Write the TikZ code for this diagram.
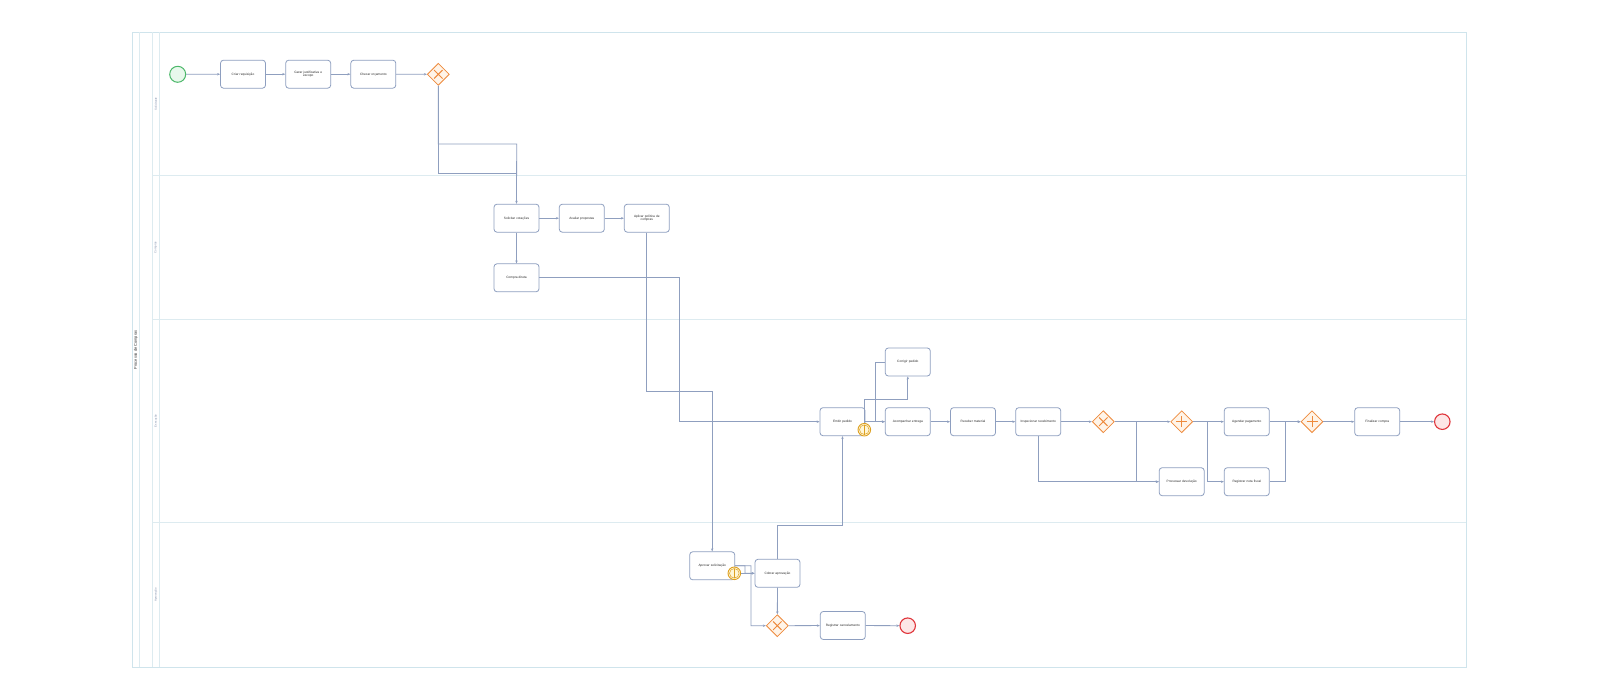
\documentclass[tikz,border=0pt]{standalone}
\usepackage{fontspec}
\setmainfont{Liberation Sans}
\usetikzlibrary{arrows.meta,shapes.geometric}
\definecolor{lanec}{HTML}{DDEBF0}
\definecolor{poolc}{HTML}{CFE4EC}
\definecolor{flowc}{HTML}{8F9FBF}
\definecolor{taskc}{HTML}{8E9FC0}
\definecolor{startc}{HTML}{4CB86A}
\definecolor{startf}{HTML}{E8F8EC}
\definecolor{endc}{HTML}{E0353B}
\definecolor{endf}{HTML}{FDE6E6}
\definecolor{gwc}{HTML}{EE8A3C}
\definecolor{gwf}{HTML}{FFF4E8}
\definecolor{bndc}{HTML}{DDA020}
\definecolor{bndf}{HTML}{FFF6D6}
\definecolor{txtc}{HTML}{2A2A2A}
\definecolor{lblc}{HTML}{7A8AA8}
\tikzset{
  task/.style={draw=taskc, line width=0.8pt, rounded corners=3pt, fill=white,
    minimum width=44.5pt, minimum height=28pt, inner sep=1pt, align=center,
    text width=43pt, font=\fontsize{3.2}{3.9}\selectfont, text=txtc},
  startev/.style={circle, draw=startc, fill=startf, line width=1pt, minimum size=16pt, inner sep=0pt},
  endev/.style={circle, draw=endc, fill=endf, line width=1.1pt, minimum size=15.5pt, inner sep=0pt},
  gw/.style={diamond, aspect=1, draw=gwc, fill=gwf, line width=0.8pt, minimum width=22pt, minimum height=22pt, inner sep=0pt},
  bnd/.style={circle, draw=bndc, fill=bndf, line width=0.9pt, minimum size=12.6pt, inner sep=0pt},
  flow/.style={draw=flowc, line width=0.8pt},
  arr/.style={flow, -{Stealth[length=3pt,width=2.4pt]}},
  lane/.style={draw=lanec, line width=0.6pt},
  lanelbl/.style={rotate=90, font=\fontsize{2.8}{3}\selectfont, text=lblc},
}
\newcommand{\gwx}[1]{\draw[gwc, line width=1pt] ([shift={(-4.2pt,-4.2pt)}]#1.center) -- ([shift={(4.2pt,4.2pt)}]#1.center) ([shift={(-4.2pt,4.2pt)}]#1.center) -- ([shift={(4.2pt,-4.2pt)}]#1.center);}
\newcommand{\gwplus}[1]{\draw[gwc, line width=1pt] ([shift={(-5.5pt,0pt)}]#1.center) -- ([shift={(5.5pt,0pt)}]#1.center) ([shift={(0pt,-5.5pt)}]#1.center) -- ([shift={(0pt,5.5pt)}]#1.center);}
\newcommand{\bndmark}[1]{\draw[bndc, line width=0.5pt] (#1.center) circle (4.8pt); \draw[bndc, line width=0.5pt] ([yshift=-4.8pt]#1.center) -- ([yshift=4.8pt]#1.center);}
\begin{document}
\begin{tikzpicture}[x=1pt, y=-1pt]
\useasboundingbox (0,0) rectangle (1600,700);
\fill[white] (0,0) rectangle (1600,700);
% pool and lanes
\draw[lane, draw=poolc] (132.3,32.3) rectangle (1466.3,667.3);
\draw[lane] (139.3,32.3) -- (139.3,667.3);
\draw[lane] (152.3,32.3) -- (152.3,667.3);
\draw[lane] (159.3,32.3) -- (159.3,667.3);
\draw[lane] (152.3,175.7) -- (1466.3,175.7);
\draw[lane] (152.3,319.3) -- (1466.3,319.3);
\draw[lane] (152.3,522.3) -- (1466.3,522.3);
\node[rotate=90, font=\fontsize{3.9}{4}\selectfont, text=txtc] (pooltitle) at (135.8,349.8) {Processo de Compras};
\node[lanelbl] (l1) at (155.8,104) {Solicitante};
\node[lanelbl] (l2) at (155.8,247.5) {Compras};
\node[lanelbl] (l3) at (155.8,421) {Execução};
\node[lanelbl] (l4) at (155.8,594.8) {Aprovação};
% lane 1
\node[startev] (start) at (177.7,74.3) {};
\node[task] (criar) at (243,74.2) {Criar requisição};
\node[task] (gerar) at (308.2,74.2) {Gerar justificativa e\\escopo};
\node[task] (checar) at (373.3,74.2) {Checar orçamento};
\node[gw] (gw1) at (438.3,74.3) {};
% lane 2
\node[task] (sol) at (516.5,218.2) {Solicitar cotações};
\node[task] (aval) at (581.8,218.2) {Avaliar propostas};
\node[task] (apl) at (646.8,218.2) {Aplicar política de\\compras};
\node[task] (cd) at (516.5,277.8) {Compra direta};
% lane 3
\node[task] (emit) at (842.5,421.7) {Emitir pedido};
\node[task] (corr) at (907.8,362) {Corrigir pedido};
\node[task] (acomp) at (907.8,421.7) {Acompanhar entrega};
\node[task] (receb) at (973,421.7) {Receber material};
\node[task] (insp) at (1038.2,421.7) {Inspecionar recebimento};
\node[gw] (gwx) at (1103.3,421.7) {};
\node[gw] (gwp) at (1181.7,421.7) {};
\node[task] (agend) at (1246.8,421.7) {Agendar pagamento};
\node[gw] (gwp2) at (1312,421.7) {};
\node[task] (fin) at (1377.2,421.7) {Finalizar compra};
\node[endev] (end2) at (1442.3,421.7) {};
\node[task] (proc) at (1181.7,481.7) {Processar devolução};
\node[task] (reg) at (1246.8,481.7) {Registrar nota fiscal};
% lane 4
\node[task] (apr) at (712.2,565.8) {Aprovar solicitação};
\node[task] (cob) at (777.5,573.3) {Cobrar aprovação};
\node[gw] (gw3) at (777.3,625.7) {};
\node[task] (regc) at (842.8,625.5) {Registrar cancelamento};
\node[endev] (end3) at (907.7,625.7) {};
% coordinates
\coordinate (j1) at (516.7,144);
\coordinate (j2) at (438.3,173.3);
\coordinate (j3) at (516.7,173.3);
\coordinate (k1) at (679.3,277.8);
\coordinate (k2) at (679.3,421.7);
\coordinate (m1) at (646.8,391.7);
\coordinate (m2) at (712.2,391.7);
\coordinate (b1) at (864.3,399.3);
\coordinate (b2) at (907.8,399.3);
\coordinate (c1) at (875,362);
\coordinate (c2) at (875,421.7);
\coordinate (x1) at (1136.7,421.7);
\coordinate (p1) at (1207.7,421.7);
\coordinate (r1) at (1285.7,481.7);
\coordinate (r2) at (1285.7,421.7);
\coordinate (q1) at (777.5,525.7);
\coordinate (q2) at (842.5,525.7);
\coordinate (a1) at (751,565.7);
\coordinate (a2) at (745,565.7);
\coordinate (a3) at (745,573.3);
% connectors
\draw[arr] (start) -- (criar);
\draw[arr] (criar) -- (gerar);
\draw[arr] (gerar) -- (checar);
\draw[arr] (checar) -- (gw1);
\draw[arr] (gw1.south) |- (j1) -- (sol.north);
\draw[flow] (gw1.south) -- (j2) -- (j3);
\draw[arr] (sol) -- (aval);
\draw[arr] (aval) -- (apl);
\draw[arr] (sol) -- (cd);
\draw[arr] (cd.east) -- (k1) -- (k2) -- (emit.west);
\draw[arr] (apl.south) -- (m1) -- (m2) -- (apr.north);
\draw[arr] (emit) -- (acomp);
\draw[arr] (corr.west) -- (c1) -- (c2) -- (acomp.west);
\draw[arr] (acomp) -- (receb);
\draw[arr] (receb) -- (insp);
\draw[arr] (insp) -- (gwx);
\draw[arr] (gwx) -- (gwp);
\draw[arr] (gwx.east) -- (x1) |- (proc.west);
\draw[arr] (insp.south) |- (proc.west);
\draw[arr] (gwp) -- (agend);
\draw[arr] (gwp.east) -- (p1) |- (reg.west);
\draw[arr] (agend) -- (gwp2);
\draw[arr] (reg.east) -- (r1) -- (r2) -- (gwp2.west);
\draw[arr] (gwp2) -- (fin);
\draw[arr] (fin) -- (end2);
\draw[arr] (cob.north) -- (q1) -- (q2) -- (emit.south);
\draw[arr] (apr.east) -- (a1) |- (gw3.west);
\draw[arr] (apr.east) -- (a2) -- (a3) -- (cob.west);
\draw[arr] (cob) -- (gw3);
\draw[arr] (gw3) -- (regc);
\draw[arr] (regc) -- (end3);
% boundary events
\node[bnd] (bnd1) at (864.3,429.7) {};
\node[bnd] (bnd2) at (734.3,573.3) {};
\bndmark{bnd1}
\bndmark{bnd2}
\draw[arr] (bnd1.north) -- (b1) -- (b2) -- (corr.south);
\draw[arr] (bnd2.east) -- (cob.west);
% gateway marks
\gwx{gw1}
\gwx{gwx}
\gwx{gw3}
\gwplus{gwp}
\gwplus{gwp2}
\end{tikzpicture}
\end{document}
